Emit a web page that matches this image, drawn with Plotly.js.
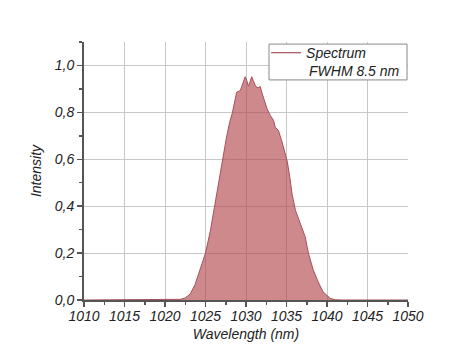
<!DOCTYPE html>
<html>
<head>
<meta charset="utf-8">
<script src="https://cdn.plot.ly/plotly-3.0.1.min.js"></script>
<style>html,body{margin:0;padding:0;background:#fff;}#chart{width:474px;height:362px;}</style>
</head>
<body>
<div id="chart"></div>
<script>
const wavelength = [1010, 1018, 1020, 1021, 1021.9, 1022.5, 1023.1, 1023.7, 1024.3, 1025, 1025.6, 1026.2, 1026.6, 1027.1, 1027.6, 1028, 1028.3, 1028.6, 1028.85, 1029.3, 1029.6, 1029.9, 1030.1, 1030.3, 1030.5, 1030.7, 1030.9, 1031.2, 1031.5, 1031.75, 1032, 1032.3, 1032.6, 1033, 1033.4, 1033.6, 1034, 1034.4, 1034.8, 1035.1, 1035.4, 1035.7, 1036.1, 1036.7, 1037.3, 1037.7, 1038.3, 1038.9, 1039.5, 1040.4, 1041, 1042, 1050];
const intensity = [0, 0, 0, 0.001, 0.003, 0.009, 0.025, 0.065, 0.125, 0.2, 0.295, 0.415, 0.5, 0.596, 0.695, 0.76, 0.795, 0.845, 0.886, 0.893, 0.92, 0.952, 0.935, 0.912, 0.93, 0.952, 0.935, 0.91, 0.905, 0.91, 0.88, 0.85, 0.815, 0.787, 0.766, 0.737, 0.723, 0.68, 0.625, 0.59, 0.525, 0.45, 0.383, 0.327, 0.27, 0.2, 0.128, 0.078, 0.035, 0.007, 0.001, 0, 0];
const seriesName = "Spectrum";
const noteText = "FWHM 8.5 nm";
const xTitle = "Wavelength (nm)";
const yTitle = "Intensity";

const fontFam = "Liberation Sans, Arial, sans-serif";
const lineColor = '#a8505a';
const traces = [
  {
    x: wavelength, y: intensity, type: 'scatter', mode: 'lines', name: seriesName,
    fill: 'tozeroy', fillcolor: 'rgba(175,65,70,0.62)', showlegend: false,
    line: {color: lineColor, width: 1}
  },
  {
    x: [null], y: [null], type: 'scatter', mode: 'lines', name: seriesName,
    line: {color: lineColor, width: 1.2}, hoverinfo: 'skip', showlegend: true
  }
];
const layout = {
  width: 474, height: 362,
  margin: {l: 84, r: 66, t: 42, b: 62},
  paper_bgcolor: '#fff', plot_bgcolor: '#fff',
  separators: ',.',
  font: {family: fontFam, size: 13, color: '#222', style: 'italic'},
  showlegend: true,
  legend: {
    x: 0.562, xanchor: 'left', y: 0.957, yanchor: 'middle',
    bgcolor: 'rgba(0,0,0,0)', borderwidth: 0,
    font: {family: fontFam, size: 14, color: '#222', style: 'italic'},
    itemwidth: 30
  },
  shapes: [{
    type: 'rect', xref: 'paper', yref: 'paper',
    x0: 0.571, x1: 0.997, y0: 0.853, y1: 0.992,
    line: {color: '#888', width: 1}, fillcolor: '#fff', layer: 'above'
  }],
  annotations: [{
    xref: 'paper', yref: 'paper', x: 0.688, y: 0.888, xanchor: 'left', yanchor: 'middle',
    text: noteText, showarrow: false,
    font: {family: fontFam, size: 14, color: '#222', style: 'italic'}
  }],
  xaxis: {
    range: [1010, 1050], dtick: 5, tick0: 1010,
    showgrid: true, gridcolor: '#c8c8c8', gridwidth: 1,
    showline: true, linecolor: '#555', linewidth: 2,
    ticks: 'outside', ticklen: 5, tickwidth: 1.5, tickcolor: '#555',
    ticklabelstandoff: -3,
    minor: {dtick: 2.5, ticks: 'outside', ticklen: 3, tickcolor: '#555', showgrid: false},
    zeroline: false,
    tickfont: {family: fontFam, size: 14, color: '#222', style: 'italic'},
    title: {text: xTitle, font: {family: fontFam, size: 14, color: '#222', style: 'italic'}, standoff: 6}
  },
  yaxis: {
    range: [0, 1.1], dtick: 0.2, tick0: 0, tickformat: '.1f',
    showgrid: true, gridcolor: '#c8c8c8', gridwidth: 1,
    showline: true, linecolor: '#555', linewidth: 2,
    ticks: 'outside', ticklen: 5, tickwidth: 1.5, tickcolor: '#555',
    minor: {dtick: 0.1, ticks: 'outside', ticklen: 3, tickcolor: '#555', showgrid: false},
    zeroline: false,
    tickfont: {family: fontFam, size: 14, color: '#222', style: 'italic'},
    title: {text: yTitle, font: {family: fontFam, size: 14, color: '#222', style: 'italic'}, standoff: 10}
  }
};
Plotly.newPlot('chart', traces, layout, {displayModeBar: false, staticPlot: true});
</script>
</body>
</html>
